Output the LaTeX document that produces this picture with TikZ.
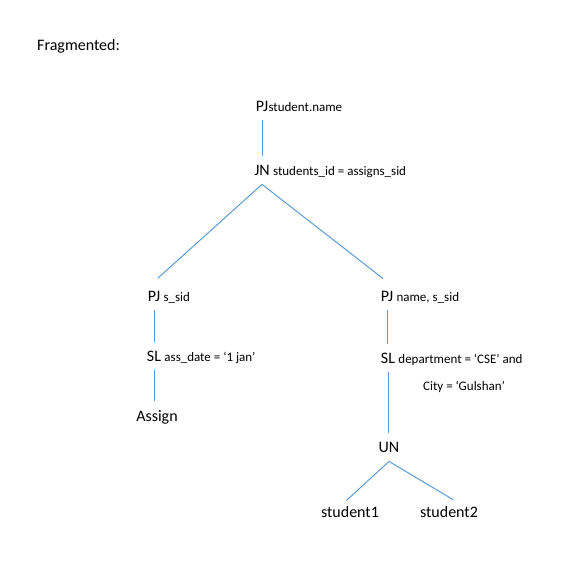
\documentclass[tikz,border=0pt]{standalone}
\usepackage{fontspec}
\setmainfont{Carlito}
\usepackage{tikz}
\definecolor{linkblue}{RGB}{91,155,213}
\tikzset{
	op/.style={font=\fontsize{16}{19}\selectfont, inner xsep=0pt, inner ysep=9pt},
	cond/.style={font=\fontsize{13}{15}\selectfont, inner sep=0pt, anchor=base west},
	edge/.style={draw=linkblue, line width=1pt}
}

\begin{document}
\begin{tikzpicture}[x=1pt,y=-1pt]
	\useasboundingbox (0,0) rectangle (584,566);
	\node[op, anchor=west] (title) at (37,46) {Fragmented:};
	\node[op] (pjtop) at (262,106) {PJ};
	\node[cond] (pjtopc) at (pjtop.base east) {student.name};
	\node[op] (jn) at (262,170) {JN};
	\node[cond, xshift=3pt] (jnc) at (jn.base east) {students\_id = assigns\_sid};
	\node[op] (pjl) at (154,296) {PJ};
	\node[cond, xshift=3pt] (pjlc) at (pjl.base east) {s\_sid};
	\node[op] (sll) at (154,356) {SL};
	\node[cond, xshift=3pt] (sllc) at (sll.base east) {ass\_date = ‘1 jan’};
	\node[op] (assign) at (157,417) {Assign};
	\node[op] (pjr) at (387,296) {PJ};
	\node[cond, xshift=3pt] (pjrc) at (pjr.base east) {name, s\_sid};
	\node[op] (slr) at (388,358) {SL};
	\node[cond, xshift=3pt] (slrc) at (slr.base east) {department = ‘CSE’ and};
	\node[cond, anchor=west] (slrc2) at (423,387) {City = ‘Gulshan’};
	\node[op] (un) at (389,447) {UN};
	\node[op] (stua) at (350,512) {student1};
	\node[op] (stub) at (449,512) {student2};

	\draw[edge] (pjtop.south) -- (jn.north);
	\draw[edge, shorten >=5pt] (jn.south) -- (pjl.north);
	\draw[edge, shorten >=5pt] (jn.south) -- (pjr.north);
	\draw[edge] (pjl.south) -- (pjl.south |- sll.north);
	\draw[edge] (sll.south) -- (sll.south |- assign.north);
	\draw[edge] (pjr.south) -- (pjr.south |- slr.north);
	\draw[edge] (slr.south) -- (slr.south |- un.north);
	\draw[edge, shorten >=-5pt] (un.south) -- (stua.north);
	\draw[edge, shorten >=-5pt] (un.south) -- (stub.north);
\end{tikzpicture}
\end{document}
